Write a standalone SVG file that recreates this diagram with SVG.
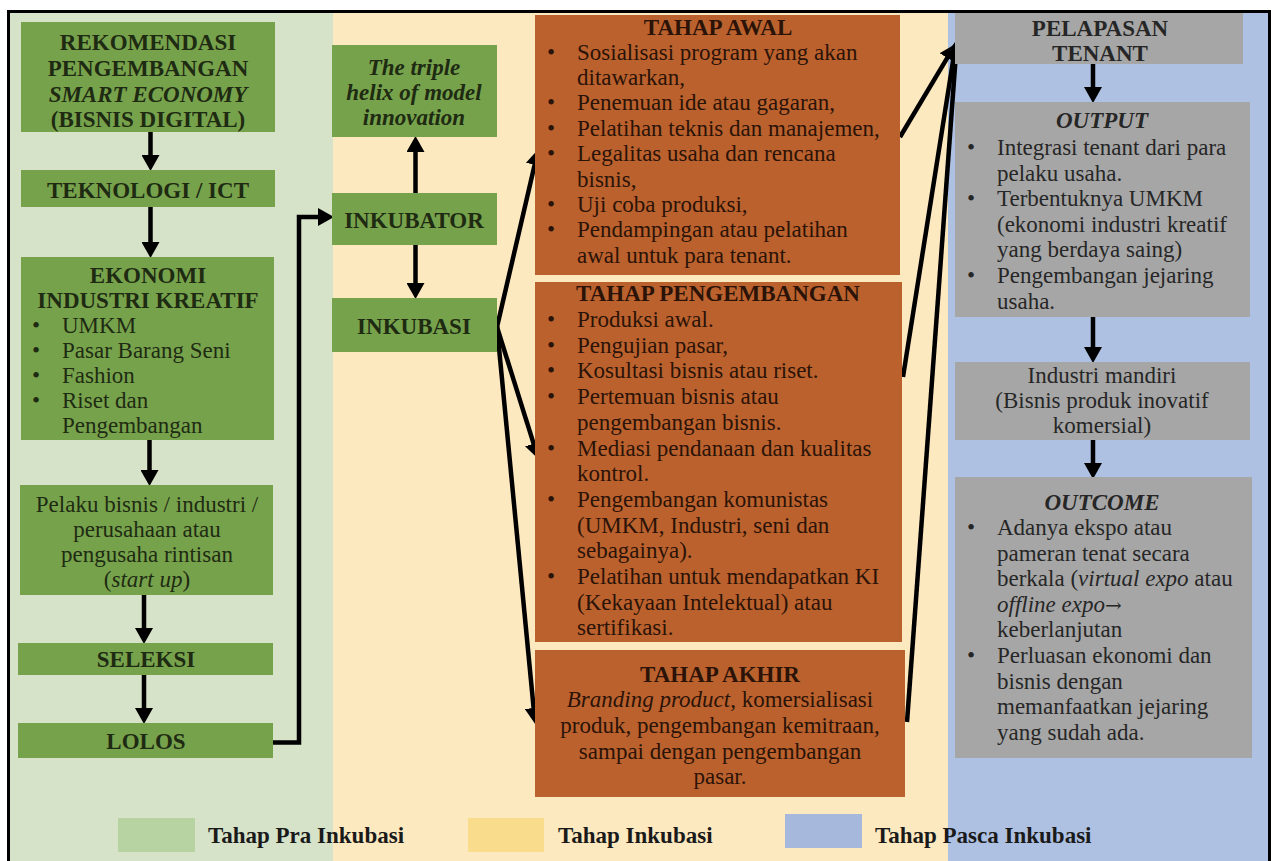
<svg xmlns="http://www.w3.org/2000/svg" width="1271" height="861" viewBox="0 0 1271 861">
<defs>
<style>
.f{font-family:"Liberation Serif","Times New Roman",serif;font-size:23px}
.b{font-weight:bold}
.m{text-anchor:middle}
.tg{fill:#1e2b12}
.to{fill:#2b1307}
.tr{fill:#262626}
.tk{fill:#1a1a1a}
.gbox{fill:#77a24c}
.obox{fill:#bb612e}
.rbox{fill:#a6a6a6}
.arr{fill:none;stroke:#000;stroke-width:4.5;stroke-linejoin:miter;marker-end:url(#ah)}
</style>
<marker id="ah" markerUnits="userSpaceOnUse" markerWidth="16" markerHeight="18" refX="6" refY="9" orient="auto" viewBox="0 0 16 18">
<path d="M0,0 L16,9 L0,18 z" fill="#000"/>
</marker>
</defs>

<rect x="0" y="0" width="1271" height="861" fill="#fff"/>
<g id="background">
<rect x="10" y="13" width="323" height="848" fill="#d6e3c9"/>
<rect x="333" y="13" width="615" height="848" fill="#fde9bf"/>
<rect x="948" y="13" width="320" height="848" fill="#aec1e3"/>
<path d="M8.5,870 V11.5 H1269.5 V870" fill="none" stroke="#000" stroke-width="3"/>
</g>

<g id="connectors">
<path class="arr" d="M150.5,132 V161"/>
<path class="arr" d="M150.5,207 V248"/>
<path class="arr" d="M149.5,440 V476"/>
<path class="arr" d="M144,595 V634"/>
<path class="arr" d="M144,675 V714"/>
<path class="arr" d="M273,742.5 H299 V217 H324"/>
<path class="arr" d="M415.5,193 V146"/>
<path class="arr" d="M415.5,245 V289"/>
<path class="arr" d="M497,327 L536,159"/>
<path class="arr" d="M497,327 L535.4,449.4"/>
<path class="arr" d="M497,327 L534.2,714"/>
<path class="arr" d="M900,137 L950.4,52.7"/>
<path class="arr" d="M903,377 L954.6,51"/>
<path class="arr" d="M907,722 L956.3,49"/>
<path class="arr" d="M1093,64 V93"/>
<path class="arr" d="M1093,317 V353"/>
<path class="arr" d="M1093,440 V469"/>
</g>

<g id="rekomendasi">
<rect class="gbox" x="21" y="22" width="254" height="110"/>
<text class="f b m tg" x="148"><tspan x="148" y="50">REKOMENDASI</tspan><tspan x="148" y="76">PENGEMBANGAN</tspan><tspan x="148" y="102" font-style="italic">SMART ECONOMY</tspan><tspan x="148" y="127">(BISNIS DIGITAL)</tspan></text>
</g>

<g id="teknologi">
<rect class="gbox" x="21" y="170" width="254" height="37"/>
<text class="f b m tg" x="148" y="198">TEKNOLOGI / ICT</text>
</g>

<g id="ekonomi">
<rect class="gbox" x="21" y="257" width="253" height="183"/>
<text class="f b m tg" x="148"><tspan x="148" y="283">EKONOMI</tspan><tspan x="148" y="308">INDUSTRI KREATIF</tspan></text>
<text class="f tg"><tspan x="32" y="333">•</tspan><tspan x="32" y="358">•</tspan><tspan x="32" y="383">•</tspan><tspan x="32" y="408">•</tspan></text>
<text class="f tg"><tspan x="62" y="333">UMKM</tspan><tspan x="62" y="358">Pasar Barang Seni</tspan><tspan x="62" y="383">Fashion</tspan><tspan x="62" y="408">Riset dan</tspan><tspan x="62" y="433">Pengembangan</tspan></text>
</g>

<g id="pelaku">
<rect class="gbox" x="20" y="485" width="253" height="110"/>
<text class="f m tg"><tspan x="147" y="512">Pelaku bisnis / industri /</tspan><tspan x="147" y="537">perusahaan atau</tspan><tspan x="147" y="562">pengusaha rintisan</tspan><tspan x="147" y="587">(<tspan font-style="italic">start up</tspan>)</tspan></text>
</g>

<g id="seleksi">
<rect class="gbox" x="18" y="643" width="255" height="32"/>
<text class="f b m tg" x="146" y="667">SELEKSI</text>
</g>

<g id="lolos">
<rect class="gbox" x="18" y="723" width="255" height="35"/>
<text class="f b m tg" x="146" y="749">LOLOS</text>
</g>

<g id="triple-helix">
<rect class="gbox" x="332" y="45" width="165" height="92"/>
<text class="f b m tg" font-style="italic"><tspan x="414" y="75">The triple</tspan><tspan x="414" y="100">helix of model</tspan><tspan x="414" y="125">innovation</tspan></text>
</g>

<g id="inkubator">
<rect class="gbox" x="332" y="193" width="165" height="52"/>
<text class="f b m tg" x="414" y="228">INKUBATOR</text>
</g>

<g id="inkubasi">
<rect class="gbox" x="332" y="298" width="165" height="54"/>
<text class="f b m tg" x="414" y="334">INKUBASI</text>
</g>

<g id="tahap-awal">
<rect class="obox" x="535" y="15" width="365" height="260"/>
<text class="f b m to" x="718" y="35" font-size="21">TAHAP AWAL</text>
<text class="f to"><tspan x="547" y="59.5">•</tspan><tspan x="547" y="110.3">•</tspan><tspan x="547" y="135.7">•</tspan><tspan x="547" y="161.1">•</tspan><tspan x="547" y="211.9">•</tspan><tspan x="547" y="237.3">•</tspan></text>
<text class="f to"><tspan x="577" y="59.5">Sosialisasi program yang akan</tspan><tspan x="577" y="84.9">ditawarkan,</tspan><tspan x="577" y="110.3">Penemuan ide atau gagaran,</tspan><tspan x="577" y="135.7">Pelatihan teknis dan manajemen,</tspan><tspan x="577" y="161.1">Legalitas usaha dan rencana</tspan><tspan x="577" y="186.5">bisnis,</tspan><tspan x="577" y="211.9">Uji coba produksi,</tspan><tspan x="577" y="237.3">Pendampingan atau pelatihan</tspan><tspan x="577" y="262.7">awal untuk para tenant.</tspan></text>
</g>

<g id="tahap-pengembangan">
<rect class="obox" x="535" y="282" width="367" height="360"/>
<text class="f b m to" x="718" y="301">TAHAP PENGEMBANGAN</text>
<text class="f to"><tspan x="547" y="327">•</tspan><tspan x="547" y="353">•</tspan><tspan x="547" y="378">•</tspan><tspan x="547" y="404">•</tspan><tspan x="547" y="455.7">•</tspan><tspan x="547" y="507">•</tspan><tspan x="547" y="584">•</tspan></text>
<text class="f to"><tspan x="577" y="327">Produksi awal.</tspan><tspan x="577" y="353">Pengujian pasar,</tspan><tspan x="577" y="378">Kosultasi bisnis atau riset.</tspan><tspan x="577" y="404">Pertemuan bisnis atau</tspan><tspan x="577" y="430">pengembangan bisnis.</tspan><tspan x="577" y="455.7">Mediasi pendanaan dan kualitas</tspan><tspan x="577" y="481.4">kontrol.</tspan><tspan x="577" y="507">Pengembangan komunistas</tspan><tspan x="577" y="532.7">(UMKM, Industri, seni dan</tspan><tspan x="577" y="558.4">sebagainya).</tspan><tspan x="577" y="584">Pelatihan untuk mendapatkan KI</tspan><tspan x="577" y="609.7">(Kekayaan Intelektual) atau</tspan><tspan x="577" y="635.4">sertifikasi.</tspan></text>
</g>

<g id="tahap-akhir">
<rect class="obox" x="535" y="650" width="370" height="147"/>
<text class="f b m to" x="720" y="682">TAHAP AKHIR</text>
<text class="f m to"><tspan x="720" y="707"><tspan font-style="italic">Branding product</tspan>, komersialisasi</tspan><tspan x="720" y="733">produk, pengembangan kemitraan,</tspan><tspan x="720" y="759">sampai dengan pengembangan</tspan><tspan x="720" y="784">pasar.</tspan></text>
</g>

<g id="pelapasan-tenant">
<rect class="rbox" x="955" y="13" width="288" height="51"/>
<text class="f b m tr"><tspan x="1100" y="36">PELAPASAN</tspan><tspan x="1100" y="61">TENANT</tspan></text>
</g>

<g id="output">
<rect class="rbox" x="955" y="102" width="295" height="215"/>
<text class="f b m tr" font-style="italic" x="1102" y="128">OUTPUT</text>
<text class="f tr"><tspan x="967" y="155">•</tspan><tspan x="967" y="206.2">•</tspan><tspan x="967" y="283">•</tspan></text>
<text class="f tr"><tspan x="997" y="155">Integrasi tenant dari para</tspan><tspan x="997" y="180.6">pelaku usaha.</tspan><tspan x="997" y="206.2">Terbentuknya UMKM</tspan><tspan x="997" y="231.8">(ekonomi industri kreatif</tspan><tspan x="997" y="257.4">yang berdaya saing)</tspan><tspan x="997" y="283">Pengembangan jejaring</tspan><tspan x="997" y="308.6">usaha.</tspan></text>
</g>

<g id="industri-mandiri">
<rect class="rbox" x="955" y="362" width="295" height="78"/>
<text class="f m tr"><tspan x="1102" y="383">Industri mandiri</tspan><tspan x="1102" y="408">(Bisnis produk inovatif</tspan><tspan x="1102" y="433">komersial)</tspan></text>
</g>

<g id="outcome">
<rect class="rbox" x="955" y="477" width="297" height="281"/>
<text class="f b m tr" font-style="italic" x="1102" y="510">OUTCOME</text>
<text class="f tr"><tspan x="967" y="535">•</tspan><tspan x="967" y="663">•</tspan></text>
<text class="f tr"><tspan x="997" y="535">Adanya ekspo atau</tspan><tspan x="997" y="560.6">pameran tenat secara</tspan><tspan x="997" y="586.2">berkala (<tspan font-style="italic">virtual expo</tspan> atau</tspan><tspan x="997" y="611.8"><tspan font-style="italic">offline expo</tspan><tspan font-family="DejaVu Serif, serif" font-size="20">→</tspan></tspan><tspan x="997" y="637.4">keberlanjutan</tspan><tspan x="997" y="663">Perluasan ekonomi dan</tspan><tspan x="997" y="688.6">bisnis dengan</tspan><tspan x="997" y="714.2">memanfaatkan jejaring</tspan><tspan x="997" y="739.8">yang sudah ada.</tspan></text>
</g>

<g id="legend">
<rect x="118" y="818" width="77" height="34" fill="#b7d3a1"/>
<text class="f b tk" x="208" y="843">Tahap Pra Inkubasi</text>
<rect x="468" y="818" width="76" height="34" fill="#f9dc8c"/>
<text class="f b tk" x="558" y="843">Tahap Inkubasi</text>
<rect x="785" y="814" width="77" height="34" fill="#a6b9dc"/>
<text class="f b tk" x="875" y="843">Tahap Pasca Inkubasi</text>
</g>
</svg>
